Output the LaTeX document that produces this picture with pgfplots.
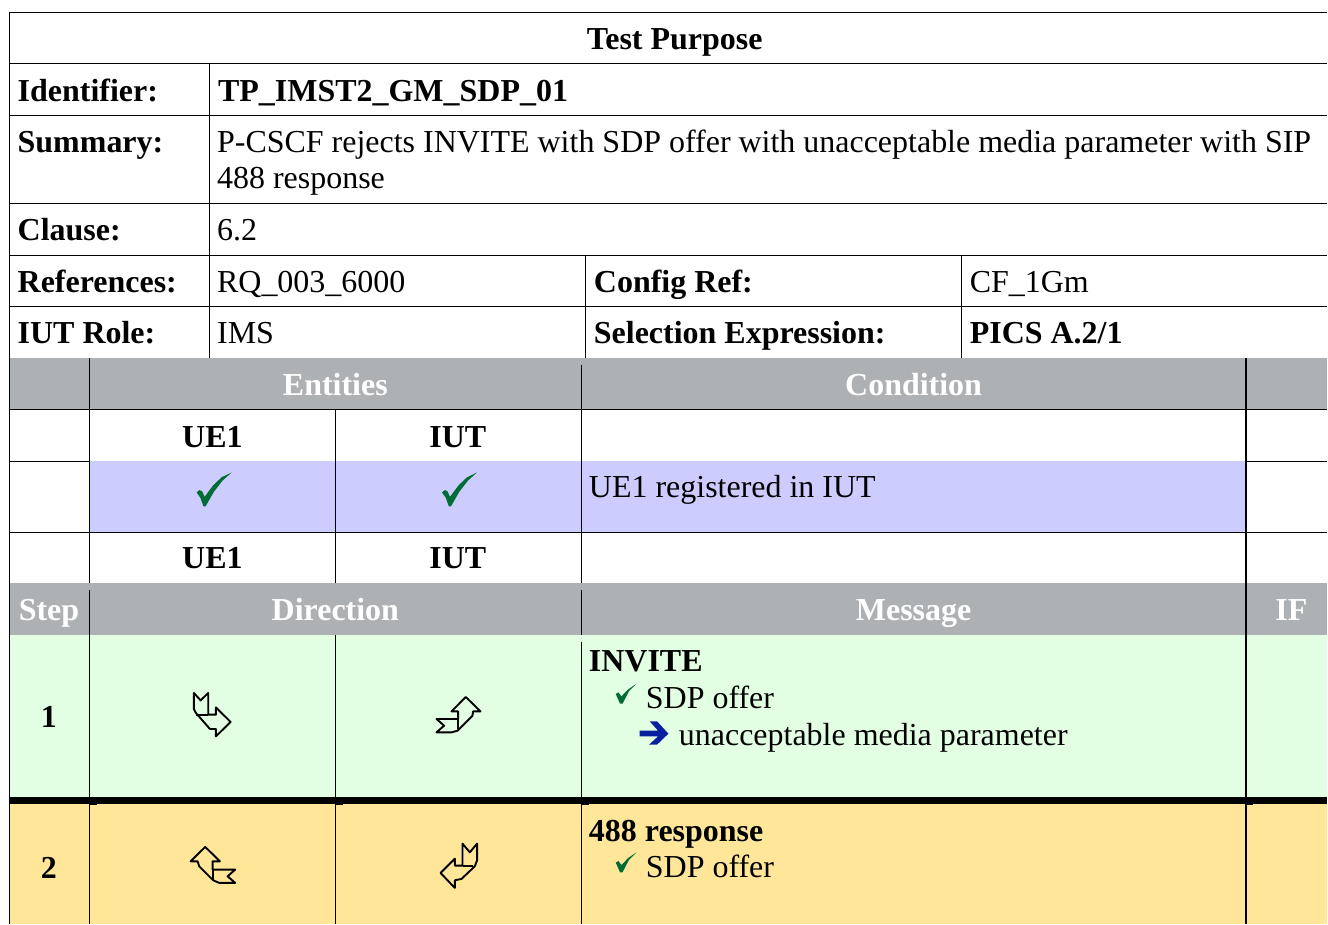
\documentclass[border=0pt]{standalone}
\usepackage{pgfplots}
\pgfplotsset{compat=1.18}
\usepackage{fontspec}
\setmainfont{Liberation Serif}
\definecolor{hdrgray}{RGB}{174,177,179}
\definecolor{rowblue}{RGB}{204,204,255}
\definecolor{rowgreen}{RGB}{227,255,227}
\definecolor{rowyellow}{RGB}{255,230,153}
\definecolor{chkgreen}{RGB}{0,110,52}
\definecolor{arrblue}{RGB}{8,32,160}
\newcommand{\Rect}[5]{\addplot[fill=#5,draw=none] coordinates {(#1,#2) (#3,#2) (#3,#4) (#1,#4)} -- cycle;}
\newcommand{\HL}[3]{\addplot[black,line width=1.15pt] coordinates {(#2,#1) (#3,#1)};}
\newcommand{\VL}[3]{\addplot[black,line width=1.15pt] coordinates {(#1,#2) (#1,#3)};}
\newcommand{\TL}[4][black]{\node[anchor=base west,inner sep=0pt,text=#1] at (axis cs:#2,#3) {#4};}
\newcommand{\TC}[4][black]{\node[anchor=base,inner sep=0pt,text=#1] at (axis cs:#2,#3) {#4};}
\begin{document}
\begin{tikzpicture}
\begin{axis}[
  scale only axis, width=1327.9bp, height=923.9bp,
  xmin=0, xmax=1328, ymin=0, ymax=924, y dir=reverse,
  axis lines=none, clip=false,
  nodes={font=\fontsize{32.1}{32.1}\selectfont},
]
% page
\Rect{0}{0}{1328}{924}{white}
% fills
\Rect{9}{358}{1328}{409}{hdrgray}
\Rect{90}{461}{1246}{532}{rowblue}
\Rect{9}{583}{1328}{635}{hdrgray}
\Rect{9}{635}{1328}{798}{rowgreen}
\Rect{9}{804}{1328}{924}{rowyellow}
\Rect{9}{797.3}{1328}{804}{black}
% rules
\HL{12.5}{9}{1328}
\HL{63.5}{9}{1328}
\HL{115.5}{9}{1328}
\HL{203.5}{9}{1328}
\HL{255.5}{9}{1328}
\HL{306.5}{9}{1328}
\HL{409.5}{9}{1328}
\HL{461.5}{9}{90}
\HL{461.5}{1246}{1328}
\HL{532.5}{9}{1328}
\VL{9.5}{12}{924}
\VL{209.5}{63}{358}
\VL{585.5}{255}{358}
\VL{961.5}{255}{358}
\VL{89.5}{358}{583}
\VL{89.5}{590}{924}
\VL{335.5}{409}{583}
\VL{335.5}{635}{924}
\VL{581.5}{365}{583}
\VL{581.5}{590}{635}
\VL{581.5}{642}{924}
\VL{1246.5}{358}{924}
% notches under the thick rule
\Rect{89}{804}{97}{805}{black}
\Rect{335}{804}{343}{805}{black}
\Rect{581}{804}{589}{805}{black}
\Rect{1246}{804}{1254}{805}{black}
% big ticks
\addplot[fill=chkgreen,draw=none] coordinates {(196.7,492.7) (199.5,490.3) (202.2,491.5) (204.7,497) (213.3,485.5) (221.7,477.5) (231.7,472.7) (222.5,481) (214,492) (205.7,506.5) (203.5,506.5) (200.5,498)} -- cycle;
\addplot[fill=chkgreen,draw=none] coordinates {(442.2,492.7) (445,490.3) (447.7,491.5) (450.2,497) (458.8,485.5) (467.2,477.5) (477.2,472.7) (468,481) (459.5,492) (451.2,506.5) (449,506.5) (446,498)} -- cycle;
% small ticks
\addplot[fill=chkgreen,draw=none] coordinates {(616,694.3) (618.7,692.7) (621.7,696.7) (628.3,689.8) (636.7,684) (629.3,691.5) (622.8,704) (620.3,704)} -- cycle;
\addplot[fill=chkgreen,draw=none] coordinates {(616,863) (618.7,861.4) (621.7,865.4) (628.3,858.5) (636.7,852.7) (629.3,860.2) (622.8,872.7) (620.3,872.7)} -- cycle;
% blue arrow
\addplot[fill=arrblue,draw=none] coordinates {(640,731) (658.3,731) (650,721.7) (657.3,721.7) (668.7,734) (657.3,745) (649.3,745) (658.3,736.7) (640,736.7)} -- cycle;
% direction arrows
\addplot[black,line width=1.9pt,line join=round] coordinates {(194,693.3) (200.7,700.7) (208.3,693.3) (208.3,715) (216,715) (216,707.7) (230.7,722.3) (216,736.7) (216,729.3) (210,729.3) (196,713.3) (194,709.3)} -- cycle;
\addplot[black,line width=1.9pt] coordinates {(196.5,715) (208.3,715)};
\addplot[black,line width=1.9pt,line join=round] coordinates {(466,697.3) (480.7,711.7) (473.3,711.7) (472.7,716) (457.7,731) (451.7,732.7) (436.7,732.7) (444.3,726) (436.7,719.3) (458.3,719.3) (458.3,711.7) (451.7,711.7)} -- cycle;
\addplot[black,line width=1.9pt] coordinates {(458.3,719.3) (458.3,729.5)};
\addplot[black,line width=1.9pt,line join=round] coordinates {(205.3,847.3) (190.7,861.7) (197.7,861.7) (199.3,866.7) (213.3,880.7) (219.3,883.3) (235.3,883.3) (227.7,876.7) (235.3,870) (212.7,870) (212.7,861.7) (220,861.7)} -- cycle;
\addplot[black,line width=1.9pt] coordinates {(212.7,870) (212.7,880)};
\addplot[black,line width=1.9pt,line join=round] coordinates {(462.7,844) (470,852.7) (477.3,844) (477.3,860.7) (475,866.7) (461.7,879.3) (455,880.7) (455,888.3) (440.7,873.3) (455,859) (455,866) (462.7,866)} -- cycle;
\addplot[black,line width=1.9pt] coordinates {(462.7,866) (473.5,866)};
% text
\TC{675}{50}{\bfseries Test Purpose}
\TL{17.5}{102}{\bfseries Identifier:}
\TL{218}{102}{\bfseries TP\_IMST2\_GM\_SDP\_01}
\TL{17.5}{153}{\bfseries Summary:}
\TL{217}{153}{P-CSCF rejects INVITE with SDP offer with unacceptable media parameter with SIP}
\TL{217}{189}{488 response}
\TL{17.5}{241}{\bfseries Clause:}
\TL{217}{241}{6.2}
\TL{17.5}{293}{\bfseries References:}
\TL{217}{293}{RQ\_003\_6000}
\TL{594}{293}{\bfseries Config Ref:}
\TL{970}{293}{CF\_1Gm}
\TL{17.5}{344}{\bfseries IUT Role:}
\TL{217}{344}{IMS}
\TL{594}{344}{\bfseries Selection Expression:}
\TL{970}{344}{\bfseries PICS A.2/1}
\TC[white]{335.5}{396}{\bfseries Entities}
\TC[white]{914}{396}{\bfseries Condition}
\TC{212.5}{448}{\bfseries UE1}
\TC{458}{448}{\bfseries IUT}
\TL{589}{498}{UE1 registered in IUT}
\TC{212.5}{569}{\bfseries UE1}
\TC{458}{569}{\bfseries IUT}
\TC[white]{49}{621}{\bfseries Step}
\TC[white]{335.5}{621}{\bfseries Direction}
\TC[white]{914}{621}{\bfseries Message}
\TC[white]{1292}{621}{\bfseries IF}
\TC{49}{728}{\bfseries 1}
\TL{589}{672}{\bfseries INVITE}
\TL{646}{708.5}{SDP offer}
\TL{679}{746}{unacceptable media parameter}
\TC{49}{879}{\bfseries 2}
\TL{589}{842}{\bfseries 488 response}
\TL{646}{877.5}{SDP offer}
\end{axis}
\end{tikzpicture}
\end{document}
